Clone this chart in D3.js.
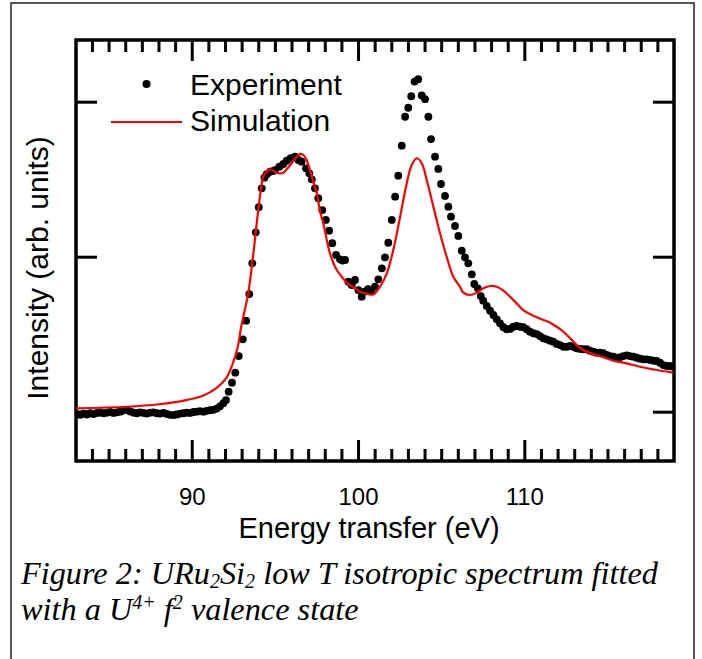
<!DOCTYPE html>
<html><head><meta charset="utf-8">
<script src="https://cdn.jsdelivr.net/npm/d3@7"></script>
<style>
html,body{margin:0;padding:0;background:#fff;}
svg{display:block;}
</style>
</head><body>
<svg id="chart" width="702" height="659"></svg>
<script>
// ---------- data ----------
const expEnergy = [
83.1,83.3,83.5,83.7,83.9,84.1,84.3,84.5,84.7,84.9,85.1,85.3,85.5,85.7,85.9,86.1,86.3,86.5,86.7,86.9,
87.1,87.3,87.5,87.7,87.9,88.1,88.3,88.5,88.7,88.9,89.1,89.3,89.5,89.7,89.9,90.1,90.3,90.5,90.7,90.9,
91.1,91.3,91.5,91.7,91.9,92.06,92.22,92.42,92.62,92.83,93.07,93.27,93.46,93.64,93.85,94.03,94.21,94.37,
94.51,94.71,94.87,95.01,95.27,95.51,95.71,95.95,96.21,96.41,96.61,96.87,97.07,97.22,97.41,97.61,97.85,
98.06,98.26,98.45,98.68,98.92,99.07,99.22,99.42,99.62,99.82,100.02,100.22,100.40,100.60,100.80,101.02,
101.22,101.43,101.62,101.82,102.03,102.23,102.42,102.63,102.83,103.02,103.20,103.40,103.62,103.83,104.03,
104.23,104.39,104.63,104.83,104.99,105.23,105.43,105.59,105.83,106.03,106.24,106.43,106.63,106.84,106.99,
107.20,107.38,107.53,107.74,107.94,108.14,108.34,108.54,108.74,108.94,109.14,109.34,109.54,109.74,109.94,
110.14,110.34,110.54,110.75,110.94,111.14,111.35,111.55,111.74,111.95,112.15,112.35,112.55,112.75,112.95,
113.15,113.35,113.55,113.75,113.95,114.15,114.35,114.55,114.75,114.95,115.15,115.35,115.56,115.75,115.95,
116.16,116.35,116.55,116.76,116.96,117.16,117.36,117.56,117.76,117.96,118.16,118.36,118.56,118.76,118.96
];
const expIntensity = [
-0.015,-0.020,-0.012,-0.018,-0.010,-0.015,-0.008,-0.005,-0.010,-0.006,-0.002,-0.008,-0.004,0.000,0.008,0.012,0.002,-0.006,-0.010,-0.004,
-0.008,-0.012,-0.006,-0.004,-0.010,-0.012,-0.008,-0.014,-0.020,-0.022,-0.018,-0.012,-0.010,-0.006,-0.008,-0.002,0.000,0.004,0.000,0.006,
0.010,0.012,0.020,0.035,0.055,0.075,0.129,0.187,0.252,0.359,0.467,0.587,0.759,0.957,1.157,1.319,1.441,1.510,
1.532,1.548,1.552,1.559,1.581,1.598,1.619,1.635,1.645,1.624,1.613,1.570,1.538,1.499,1.441,1.377,1.301,
1.237,1.168,1.087,1.011,0.983,0.975,0.979,0.839,0.817,0.850,0.785,0.742,0.775,0.790,0.780,0.807,
0.854,0.925,0.996,1.090,1.237,1.387,1.523,1.716,1.903,1.961,2.035,2.130,2.145,2.040,2.016,
1.903,1.759,1.645,1.566,1.469,1.392,1.323,1.258,1.198,1.134,1.039,0.996,0.957,0.886,0.824,
0.796,0.746,0.716,0.682,0.652,0.624,0.596,0.570,0.545,0.532,0.534,0.548,0.553,0.548,0.545,
0.532,0.516,0.506,0.501,0.488,0.474,0.467,0.458,0.452,0.437,0.430,0.419,0.419,0.424,0.419,
0.409,0.405,0.403,0.403,0.394,0.387,0.381,0.381,0.377,0.366,0.359,0.355,0.348,0.351,0.359,
0.364,0.359,0.355,0.348,0.342,0.338,0.338,0.334,0.329,0.327,0.316,0.301,0.295,0.295,0.290
];
const simEnergy = [
83.04,86.05,88.03,89.66,90.66,91.46,92.06,92.47,92.77,92.96,93.11,93.27,93.40,93.64,93.91,94.15,94.31,94.51,
94.71,95.01,95.27,95.51,95.71,96.01,96.31,96.55,96.71,96.91,97.11,97.31,97.52,97.71,97.91,98.12,98.31,98.51,
98.72,99.02,99.32,99.72,100.12,100.62,100.92,101.32,101.73,102.12,102.53,102.93,103.23,103.53,103.83,104.13,
104.53,104.93,105.33,105.73,106.13,106.33,106.73,107.14,107.53,107.94,108.34,108.74,109.14,109.54,109.94,
110.34,110.75,111.14,111.55,111.95,112.35,112.75,113.15,113.55,114.15,114.75,115.35,116.16,116.96,117.96,118.96
];
const simIntensity = [
0.022,0.032,0.048,0.075,0.103,0.151,0.215,0.312,0.419,0.540,0.617,0.695,0.766,0.959,1.217,1.430,1.521,1.548,
1.564,1.548,1.538,1.542,1.564,1.603,1.645,1.663,1.656,1.624,1.559,1.484,1.409,1.296,1.215,1.108,1.022,0.961,
0.914,0.871,0.832,0.803,0.774,0.759,0.756,0.806,0.893,1.043,1.258,1.474,1.592,1.635,1.603,1.495,
1.323,1.151,1.000,0.871,0.806,0.768,0.753,0.768,0.796,0.811,0.806,0.781,0.742,0.699,0.656,
0.630,0.609,0.592,0.574,0.548,0.516,0.474,0.430,0.398,0.372,0.351,0.329,0.312,0.290,0.269,0.252
];
const xMajorTicks = [90, 100, 110];
const xMinorTicks = [84,85,86,87,88,89,91,92,93,94,95,96,97,98,99,101,102,103,104,105,106,107,108,109,111,112,113,114,115,116,117,118];
const yMajorTicks = [0, 1, 2];
const legendLabels = ["Experiment", "Simulation"];
const xTitle = "Energy transfer (eV)";
const yTitle = "Intensity (arb. units)";

// ---------- drawing ----------
const svg = d3.select("#chart");
const L = 76, T = 40, R = 674, B = 461;
const x = d3.scaleLinear().domain([83.04, 119.0]).range([L, R]);
const y = d3.scaleLinear().domain([-0.318, 2.398]).range([B, T]);

// outer figure frame
svg.append("rect").attr("x", 11).attr("y", 3).attr("width", 683).attr("height", 720)
  .attr("fill", "none").attr("stroke", "#222").attr("stroke-width", 1.5);

const sans = "'Liberation Sans', Arial, Helvetica, sans-serif";

function styleAxis(g) {
  g.select(".domain").remove();
  g.selectAll(".tick line").attr("stroke", "#000").attr("stroke-width", 3);
}

// x minor ticks (bottom & top)
svg.append("g").attr("transform", `translate(0,${B})`)
  .call(d3.axisBottom(x).tickValues(xMinorTicks).tickSize(-12).tickFormat(""))
  .call(styleAxis);
svg.append("g").attr("transform", `translate(0,${T})`)
  .call(d3.axisTop(x).tickValues(xMinorTicks).tickSize(-12).tickFormat(""))
  .call(styleAxis);
// x major ticks
svg.append("g").attr("transform", `translate(0,${B})`)
  .call(d3.axisBottom(x).tickValues(xMajorTicks).tickSize(-21).tickPadding(27).tickFormat(d3.format("d")))
  .call(styleAxis)
  .call(g => g.selectAll("text").attr("font-family", sans).attr("font-size", 24).attr("fill", "#000"));
svg.append("g").attr("transform", `translate(0,${T})`)
  .call(d3.axisTop(x).tickValues(xMajorTicks).tickSize(-21).tickFormat(""))
  .call(styleAxis);
// y ticks
svg.append("g").attr("transform", `translate(${L},0)`)
  .call(d3.axisLeft(y).tickValues(yMajorTicks).tickSize(-21).tickFormat(""))
  .call(styleAxis);
svg.append("g").attr("transform", `translate(${R},0)`)
  .call(d3.axisRight(y).tickValues(yMajorTicks).tickSize(-21).tickFormat(""))
  .call(styleAxis);

// plot frame
svg.append("rect").attr("x", L).attr("y", T).attr("width", R - L).attr("height", B - T)
  .attr("fill", "none").attr("stroke", "#000").attr("stroke-width", 3.5);

// clip
svg.append("clipPath").attr("id", "clip").append("rect")
  .attr("x", L).attr("y", T).attr("width", R - L).attr("height", B - T);

const plot = svg.append("g").attr("clip-path", "url(#clip)");

const expData = expEnergy.map((e, i) => ({e, v: expIntensity[i]}));
plot.selectAll("circle.exp").data(expData).enter().append("circle")
  .attr("class", "exp")
  .attr("cx", d => x(d.e)).attr("cy", d => y(d.v)).attr("r", 3.9)
  .attr("fill", "#000");

const simData = simEnergy.map((e, i) => ({e, v: simIntensity[i]}));
plot.append("path").datum(simData)
  .attr("fill", "none").attr("stroke", "#ff0000").attr("stroke-width", 2.2)
  .attr("d", d3.line().x(d => x(d.e)).y(d => y(d.v)).curve(d3.curveCatmullRom.alpha(0.5)));

// legend
const lg = svg.append("g");
lg.append("circle").attr("cx", 146.5).attr("cy", 84).attr("r", 4).attr("fill", "#000");
lg.append("text").attr("x", 190).attr("y", 95).text(legendLabels[0])
  .attr("font-family", sans).attr("font-size", 30).attr("fill", "#000");
lg.append("line").attr("x1", 111).attr("x2", 182).attr("y1", 122).attr("y2", 122)
  .attr("stroke", "#ff0000").attr("stroke-width", 2.2);
lg.append("text").attr("x", 190).attr("y", 131).text(legendLabels[1])
  .attr("font-family", sans).attr("font-size", 30).attr("fill", "#000");

// axis titles
svg.append("text").attr("x", (L + R) / 2 - 6).attr("y", 538).attr("text-anchor", "middle")
  .attr("font-family", sans).attr("font-size", 29).attr("fill", "#000").text(xTitle);
svg.append("text").attr("transform", `translate(48,${268}) rotate(-90)`).attr("text-anchor", "middle")
  .attr("font-family", sans).attr("font-size", 30).attr("fill", "#000").text(yTitle);

// caption (single text per line, sub/superscripts via baseline-shift)
const serif = "'Liberation Serif', 'Times New Roman', Times, serif";
const cap = svg.append("g").attr("font-family", serif).attr("font-style", "italic")
  .attr("font-size", 32.3).attr("fill", "#000");
const l1 = cap.append("text").attr("x", 21).attr("y", 584);
l1.append("tspan").text("Figure 2: URu");
l1.append("tspan").attr("font-size", 20).attr("baseline-shift", "-4").text("2");
l1.append("tspan").text("Si");
l1.append("tspan").attr("font-size", 20).attr("baseline-shift", "-4").text("2");
l1.append("tspan").text(" low T isotropic spectrum fitted");
const l2 = cap.append("text").attr("x", 21).attr("y", 620);
l2.append("tspan").text("with a U");
l2.append("tspan").attr("font-size", 20).attr("baseline-shift", "11").text("4+");
l2.append("tspan").text(" f");
l2.append("tspan").attr("font-size", 20).attr("baseline-shift", "11").text("2");
l2.append("tspan").text(" valence state");
</script>
</body></html>
